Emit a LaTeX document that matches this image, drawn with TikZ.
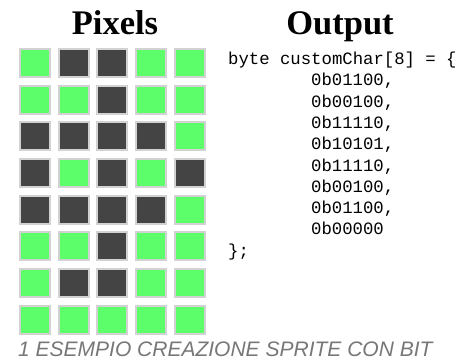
\documentclass[tikz,border=0pt]{standalone}
\usepackage{fontspec}
\setmainfont{Liberation Serif}
\newfontfamily\codefont{Liberation Mono}
\newfontfamily\capfont{Liberation Sans}
\definecolor{pixon}{HTML}{444444}
\definecolor{pixoff}{HTML}{5CFF6A}
\definecolor{pixedge}{HTML}{D2D2D2}
\definecolor{capgray}{HTML}{777777}
\begin{document}
\begin{tikzpicture}[x=1pt,y=-1pt,
  cell/.style={rectangle, inner sep=0pt, minimum width=30pt, minimum height=28pt, draw=pixedge, line width=2pt},
  on/.style={cell, fill=pixon},
  off/.style={cell, fill=pixoff},
  title/.style={font=\fontsize{34.5}{40}\selectfont\bfseries, inner sep=0pt, anchor=base},
  code/.style={font=\codefont\fontsize{17.3}{20}\selectfont, inner sep=0pt, anchor=base west, text=black},
  caption/.style={font=\capfont\itshape\fontsize{21}{24}\selectfont, inner sep=0pt, anchor=base west, text=capgray}]
\useasboundingbox (0,0) rectangle (474,360);
\fill[white] (0,0) rectangle (474,360);
\node[title] (tpix) at (115,34) {Pixels};
\node[title] (tout) at (340,34) {Output};
\foreach \row [count=\j from 0] in {{0,1,1,0,0},{0,0,1,0,0},{1,1,1,1,0},{1,0,1,0,1},{1,1,1,1,0},{0,0,1,0,0},{0,1,1,0,0},{0,0,0,0,0}} {
  \foreach \v [count=\i from 0] in \row {
    \ifnum\v=1
      \node[on] (c\j\i) at ({35+38.7*\i},{63+36.67*\j}) {};
    \else
      \node[off] (c\j\i) at ({35+38.7*\i},{63+36.67*\j}) {};
    \fi
  }
}
\node[code] (l0) at (228,64.5) {byte customChar[8] = \{};
\node[code] (l1) at (311,85.8) {0b01100,};
\node[code] (l2) at (311,107.1) {0b00100,};
\node[code] (l3) at (311,128.4) {0b11110,};
\node[code] (l4) at (311,149.7) {0b10101,};
\node[code] (l5) at (311,171.0) {0b11110,};
\node[code] (l6) at (311,192.3) {0b00100,};
\node[code] (l7) at (311,213.6) {0b01100,};
\node[code] (l8) at (311,234.9) {0b00000};
\node[code] (l9) at (228,256.2) {\};};
\node[caption] (cap) at (18,356.5) {1 ESEMPIO CREAZIONE SPRITE CON BIT};
\end{tikzpicture}
\end{document}
